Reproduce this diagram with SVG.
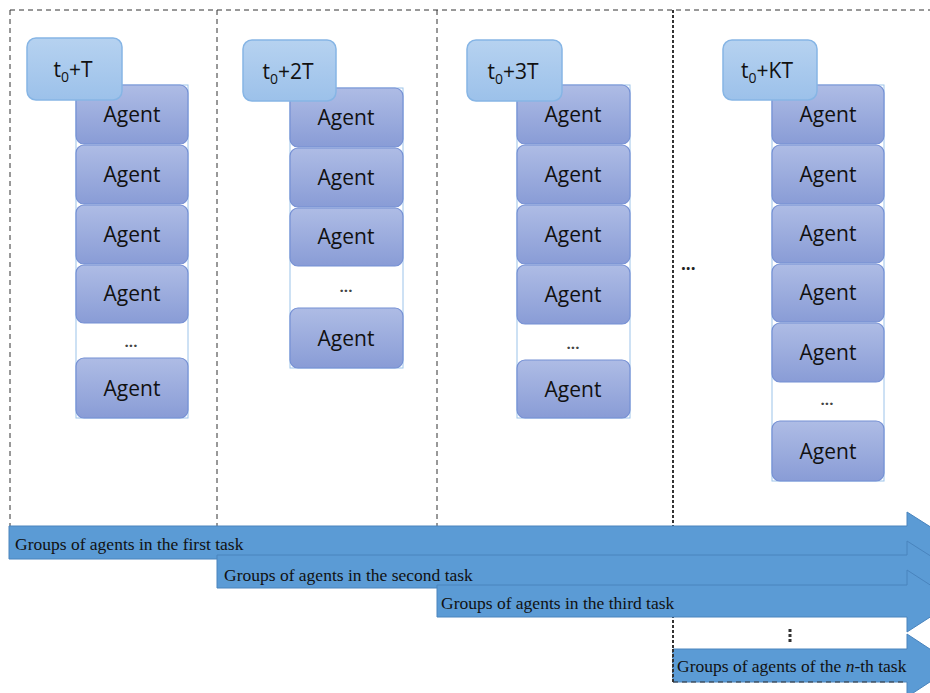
<svg xmlns="http://www.w3.org/2000/svg" width="930" height="693" viewBox="0 0 930 693">
<style>
.dash{stroke:#333;stroke-width:1;stroke-dasharray:5 4;fill:none}
.dense{stroke:#333;stroke-width:2;stroke-dasharray:3 2;fill:none}
.cont{fill:#fff;stroke:#9cc3ea;stroke-width:1}
.agent{fill:url(#ag);stroke:#7590d4;stroke-width:1.2}
.lbl{fill:url(#lg);stroke:#86b5e5;stroke-width:1.5}
.at{font-family:"Open Sans","Liberation Sans",sans-serif;font-size:21px;fill:#111;text-anchor:middle}
.lt{font-family:"Open Sans","Liberation Sans",sans-serif;font-size:21px;fill:#111;text-anchor:middle}
.dots{font-family:"Open Sans","Liberation Sans",sans-serif;font-size:15px;font-weight:bold;fill:#444;text-anchor:middle}
.arr{fill:#5b9bd5;stroke:#4a84bd;stroke-width:1}
.ar{font-family:"Liberation Serif","Times New Roman",serif;font-size:17.5px;fill:#111}
</style>
<defs>
<linearGradient id="ag" x1="0" y1="0" x2="0" y2="1">
<stop offset="0" stop-color="#aebce5"/>
<stop offset="1" stop-color="#899cd6"/>
</linearGradient>
<linearGradient id="lg" x1="0" y1="0" x2="0" y2="1">
<stop offset="0" stop-color="#b6d2f0"/>
<stop offset="1" stop-color="#9cc1ea"/>
</linearGradient>
</defs>
<rect width="930" height="693" fill="#fff"/>

<g id="grid">
<line class="dash" x1="10" y1="10" x2="930" y2="10"/>
<line class="dash" x1="10" y1="10" x2="10" y2="527"/>
<line class="dash" x1="217" y1="10" x2="217" y2="555"/>
<line class="dash" x1="437" y1="10" x2="437" y2="585"/>
<line class="dense" x1="673" y1="10" x2="673" y2="682"/>
</g>

<g id="col1">
<rect class="cont" x="76" y="85" width="112" height="333"/>
<rect class="agent" x="76" y="85" width="112" height="59" rx="8"/>
<text class="at" x="132" y="122">Agent</text>
<rect class="agent" x="76" y="145" width="112" height="59" rx="8"/>
<text class="at" x="132" y="182">Agent</text>
<rect class="agent" x="76" y="205" width="112" height="59" rx="8"/>
<text class="at" x="132" y="242">Agent</text>
<rect class="agent" x="76" y="265" width="112" height="58" rx="8"/>
<text class="at" x="132" y="301">Agent</text>
<text class="dots" x="131" y="347">...</text>
<rect class="agent" x="76" y="358" width="112" height="60" rx="8"/>
<text class="at" x="132" y="396">Agent</text>
<rect class="lbl" x="27" y="38" width="95" height="62" rx="9"/>
<text class="lt" x="73" y="77">t<tspan font-size="14" dy="5">0</tspan><tspan dy="-5">+T</tspan></text>
</g>

<g id="col2">
<rect class="cont" x="290" y="88" width="113" height="280"/>
<rect class="agent" x="290" y="88" width="113" height="59" rx="8"/>
<text class="at" x="346" y="125">Agent</text>
<rect class="agent" x="290" y="148" width="113" height="59" rx="8"/>
<text class="at" x="346" y="185">Agent</text>
<rect class="agent" x="290" y="208" width="113" height="58" rx="8"/>
<text class="at" x="346" y="244">Agent</text>
<text class="dots" x="346" y="292">...</text>
<rect class="agent" x="290" y="308" width="113" height="60" rx="8"/>
<text class="at" x="346" y="346">Agent</text>
<rect class="lbl" x="243" y="40" width="93" height="61" rx="9"/>
<text class="lt" x="288" y="79">t<tspan font-size="14" dy="5">0</tspan><tspan dy="-5">+2T</tspan></text>
</g>

<g id="col3">
<rect class="cont" x="517" y="85" width="113" height="333"/>
<rect class="agent" x="517" y="85" width="113" height="59" rx="8"/>
<text class="at" x="573" y="122">Agent</text>
<rect class="agent" x="517" y="145" width="113" height="59" rx="8"/>
<text class="at" x="573" y="182">Agent</text>
<rect class="agent" x="517" y="205" width="113" height="59" rx="8"/>
<text class="at" x="573" y="242">Agent</text>
<rect class="agent" x="517" y="265" width="113" height="59" rx="8"/>
<text class="at" x="573" y="302">Agent</text>
<text class="dots" x="573" y="349">...</text>
<rect class="agent" x="517" y="360" width="113" height="58" rx="8"/>
<text class="at" x="573" y="397">Agent</text>
<rect class="lbl" x="467" y="40" width="95" height="61" rx="9"/>
<text class="lt" x="513" y="79">t<tspan font-size="14" dy="5">0</tspan><tspan dy="-5">+3T</tspan></text>
</g>

<g id="col4">
<rect class="cont" x="772" y="85" width="112" height="396"/>
<rect class="agent" x="772" y="85" width="112" height="59" rx="8"/>
<text class="at" x="828" y="122">Agent</text>
<rect class="agent" x="772" y="145" width="112" height="59" rx="8"/>
<text class="at" x="828" y="182">Agent</text>
<rect class="agent" x="772" y="205" width="112" height="58" rx="8"/>
<text class="at" x="828" y="241">Agent</text>
<rect class="agent" x="772" y="264" width="112" height="58" rx="8"/>
<text class="at" x="828" y="300">Agent</text>
<rect class="agent" x="772" y="323" width="112" height="59" rx="8"/>
<text class="at" x="828" y="360">Agent</text>
<text class="dots" x="827" y="405">...</text>
<rect class="agent" x="772" y="421" width="112" height="60" rx="8"/>
<text class="at" x="828" y="459">Agent</text>
<rect class="lbl" x="723" y="40" width="94" height="60" rx="9"/>
<text class="lt" x="767" y="78">t<tspan font-size="14" dy="5">0</tspan><tspan dy="-5">+KT</tspan></text>
</g>

<g id="ellipsis">
<text font-family="Open Sans, Liberation Sans, sans-serif" font-size="17" font-weight="bold" fill="#222" x="681" y="270">...</text>
<line x1="790" y1="629" x2="790" y2="644" stroke="#333" stroke-width="3" stroke-dasharray="3 2"/>
</g>

<g id="arrows">
<polygon class="arr" points="9,526 907,526 907,512 955,542.5 907,573 907,559 9,559"/>
<text class="ar" x="15" y="550">Groups of agents in the first task</text>
<polygon class="arr" points="217,555 907,555 907,541 955,571.5 907,602 907,588 217,588"/>
<text class="ar" x="224" y="581">Groups of agents in the second task</text>
<polygon class="arr" points="437,585 907,585 907,570 955,601 907,632 907,617 437,617"/>
<text class="ar" x="441" y="609">Groups of agents in the third task</text>
<polygon class="arr" points="673,649 907,649 907,634 955,665.5 907,697 907,682 673,682"/>
<text class="ar" x="677" y="672">Groups of agents of the <tspan font-style="italic">n</tspan>-th task</text>
<line class="dense" x1="673" y1="649" x2="673" y2="682" stroke-width="1.5"/>
<line class="dash" x1="673" y1="682" x2="907" y2="682"/>
</g>
</svg>
